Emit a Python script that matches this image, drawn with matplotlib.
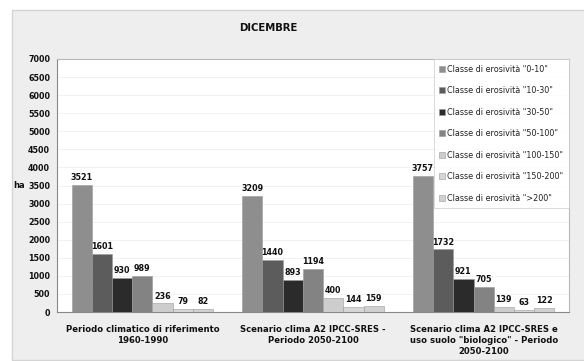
import numpy as np
import matplotlib
matplotlib.use("Agg")
import matplotlib.pyplot as plt
from matplotlib.patches import Rectangle

# data
periods = ["Periodo climatico di riferimento\n1960-1990",
           "Scenario clima A2 IPCC-SRES -\nPeriodo 2050-2100",
           "Scenario clima A2 IPCC-SRES e\nuso suolo \"biologico\" - Periodo\n2050-2100"]
classes = ['Classe di erosività "0-10"', 'Classe di erosività "10-30"',
           'Classe di erosività "30-50"', 'Classe di erosività "50-100"',
           'Classe di erosività "100-150"', 'Classe di erosività "150-200"',
           'Classe di erosività ">200"']
c_0_10 = [3521, 3209, 3757]
c_10_30 = [1601, 1440, 1732]
c_30_50 = [930, 893, 921]
c_50_100 = [989, 1194, 705]
c_100_150 = [236, 400, 139]
c_150_200 = [79, 144, 63]
c_200 = [82, 159, 122]
series = [c_0_10, c_10_30, c_30_50, c_50_100, c_100_150, c_150_200, c_200]
colors = ["#8e8e8e", "#5c5c5c", "#2b2b2b", "#838383", "#cdcdcd", "#d6d6d6", "#d0d0d0"]

fig = plt.figure(figsize=(5.84, 3.61), dpi=100, facecolor="white")
fig.patches.append(Rectangle((12/584, 0.002), 1, 1 - 10/361 - 0.002, transform=fig.transFigure,
                             facecolor="#eeeeee", edgecolor="#d4d4d4", lw=1, zorder=-10))

ax = fig.add_axes([57/584, 1 - 312/361, (569 - 57)/584, (312 - 59)/361])
ax.set_facecolor("white")

x = np.arange(len(periods))
n = len(series)
w = 0.83 / n
for i, (vals, col) in enumerate(zip(series, colors)):
    pos = x - 0.83/2 + w*(i + 0.5)
    bars = ax.bar(pos, vals, width=w, color=col, edgecolor="#9a9a9a", lw=0.4,
                  label=classes[i], zorder=3)
    for b, v in zip(bars, vals):
        ax.text(b.get_x() + b.get_width()/2, v + 80, str(v), ha="center", va="bottom",
                fontsize=5.8, fontweight="bold", color="#111111", zorder=4)

ax.set_xlim(-0.5, 2.5)
ax.set_ylim(0, 7000)
ax.set_yticks(np.arange(0, 7001, 500))
ax.set_xticks(x)
ax.set_xticklabels(periods, fontsize=6.1, fontweight="bold", color="#111111", linespacing=1.35)
ax.tick_params(axis="y", labelsize=5.8, length=0, pad=5, colors="#111111")
ax.tick_params(axis="x", length=0, pad=9)
for lab in ax.get_yticklabels():
    lab.set_fontweight("bold")
ax.yaxis.grid(True, color="#f0f0f0", lw=0.6, zorder=0)

for s in ["top", "right"]:
    ax.spines[s].set_color("#b8b8b8")
    ax.spines[s].set_linewidth(0.8)
for s in ["left", "bottom"]:
    ax.spines[s].set_color("#888888")
    ax.spines[s].set_linewidth(0.8)

ax.text(-0.085, 3500, "ha", transform=ax.get_yaxis_transform(), fontsize=6,
        fontweight="bold", ha="left", va="center", color="#111111")

fig.text(268/584, 1 - 28/361, "DICEMBRE", ha="center", va="center",
         fontsize=7.3, fontweight="bold", color="#111111")

leg = ax.legend(loc="upper right", borderaxespad=0, fontsize=5.8, frameon=True,
                fancybox=False, edgecolor="#c8c8c8", handlelength=0.7, handleheight=0.7,
                handletextpad=0.3, labelspacing=1.55, borderpad=0.7)
leg.get_frame().set_linewidth(0.6)
for t in leg.get_texts():
    t.set_color("#222222")

fig.savefig("out.png", dpi=100, facecolor="white")
